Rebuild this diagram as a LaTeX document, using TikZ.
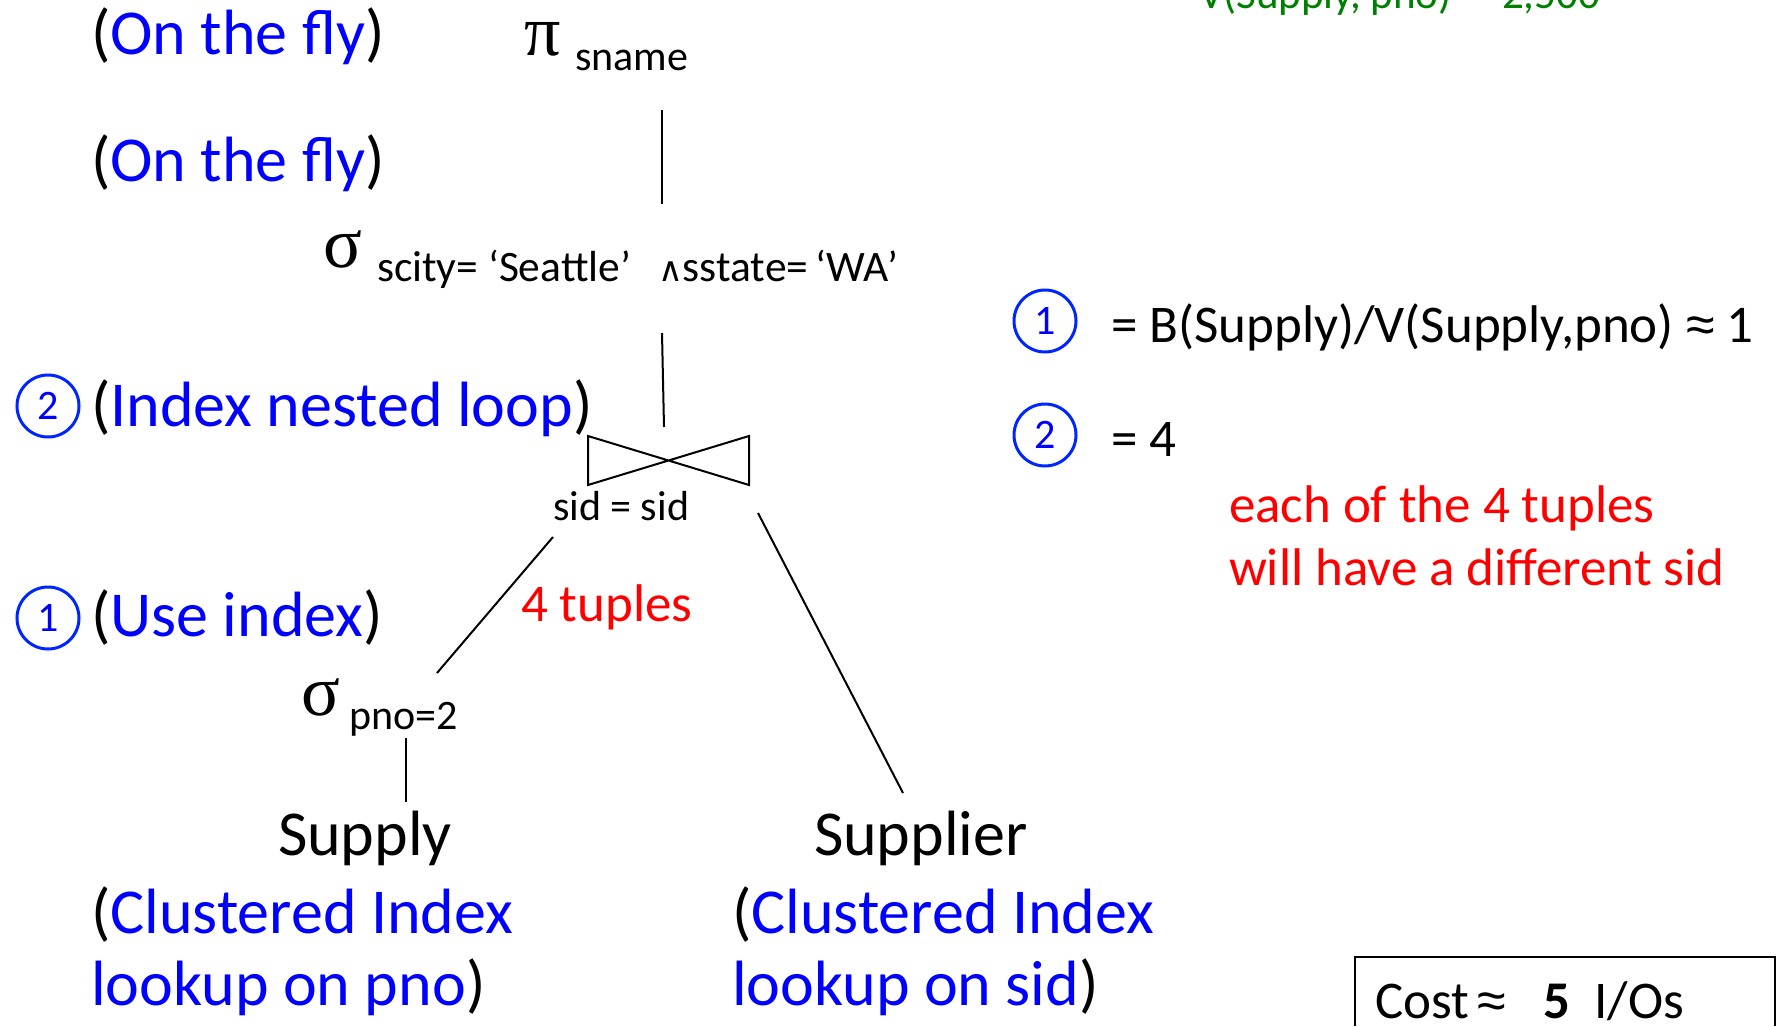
\documentclass[tikz,border=0pt]{standalone}
\usepackage{fontspec}
\setmainfont{Carlito}
\newfontfamily\greekfont{Liberation Serif}
\newfontfamily\symfont{DejaVu Sans}
\newfontfamily\approxfont{Liberation Sans}
\newcommand{\apx}{{\approxfont\fontsize{52}{58}\selectfont ≈}}
\begin{document}
\begin{tikzpicture}[x=1pt,y=-1pt,
  txt/.style={anchor=base west,inner sep=0pt,outer sep=0pt},
  big/.style={txt,font=\fontsize{64}{70}\selectfont},
  mid/.style={txt,font=\fontsize{53}{60}\selectfont},
  small/.style={txt,font=\fontsize{42}{48}\selectfont},
  greek/.style={txt,font=\fontsize{72}{80}\selectfont\greekfont},
  edge/.style={line width=2pt},
  num/.style={circle,draw=blue!85!cyan,line width=3pt,minimum size=62pt,inner sep=0pt,
    text=blue,font=\fontsize{42}{48}\selectfont}]
\fill[white] (0,0) rectangle (1777,1026);
\useasboundingbox (0,0) rectangle (1777,1026);

% statistics at the top
\node[mid,text=green!50!black,font=\fontsize{43}{48}\selectfont] (vstat) at (1199,8) {V(Supply, pno) =\ \ 2,500};

% projection
\node[big] (fly1) at (91,54) {(\textcolor{blue}{On the fly})};
\node[greek] (pi) at (524,55) {π};
\node[small] (pisub) at (575,70) {sname};

% selection on supplier
\node[big] (fly2) at (91,181) {(\textcolor{blue}{On the fly})};
\node[greek] (sig1) at (323,267) {σ};
\node[small,font=\fontsize{43.5}{48}\selectfont] (sig1sub) at (377,281) {scity= ‘Seattle’\ \ \,{\symfont\fontsize{34}{36}\selectfont ∧}sstate=\,‘WA’};

% join
\node[num] (c2l) at (48,406) {2};
\node[big] (inl) at (91,426) {(\textcolor{blue}{Index nested loop})};
\coordinate (jtl) at (588,436);
\coordinate (jbr) at (749,485);
\coordinate (jtr) at (749,436);
\coordinate (jbl) at (588,485);
\draw[edge] (jtl) -- (jbr) -- (jtr) -- (jbl) -- cycle;
\node[small] (jcond) at (553,520) {sid = sid};
\node[mid,text=red] (tup) at (521,621) {4 tuples};

% selection on supply
\node[num] (c1l) at (48,618) {1};
\node[big] (useidx) at (91,636) {(\textcolor{blue}{Use index})};
\node[greek] (sig2) at (301,715) {σ};
\node[small] (sig2sub) at (349,729) {pno=2};

% base relations
\node[big] (supply) at (278,855) {Supply};
\node[big] (supplyacc) at (91,933) {(\textcolor{blue}{Clustered Index}};
\node[big] (supplyacc2) at (91,1005) {\textcolor{blue}{lookup on pno})};
\node[big] (supplier) at (814,855) {Supplier};
\node[big] (supplieracc) at (732,933) {(\textcolor{blue}{Clustered Index}};
\node[big] (supplieracc2) at (732,1005) {\textcolor{blue}{lookup on sid})};

% connector end points
\coordinate (piB) at (662,110);
\coordinate (sig1T) at (662,204);
\coordinate (sig1B) at (662,333);
\coordinate (joinT) at (664,427);
\coordinate (joinL) at (553,537);
\coordinate (sig2T) at (437,673);
\coordinate (joinR) at (758,513);
\coordinate (supplierT) at (903,793);
\coordinate (sig2B) at (406,738);
\coordinate (supplyT) at (406,802);
\draw[edge] (piB) -- (sig1T);
\draw[edge] (sig1B) -- (joinT);
\draw[edge] (joinL) -- (sig2T);
\draw[edge] (joinR) -- (supplierT);
\draw[edge] (sig2B) -- (supplyT);

% cost notes
\node[num] (c1r) at (1045,321) {1};
\node[mid] (eq1) at (1111,342) {= B(Supply)/V(Supply,pno) \apx\ 1};
\node[num] (c2r) at (1045,435) {2};
\node[mid] (eq2) at (1111,456) {= 4};
\node[mid,text=red] (note1) at (1229,522) {each of the 4 tuples};
\node[mid,text=red] (note2) at (1229,585) {will have a different sid};

% total cost box
\draw[edge] (1355,1026) -- (1355,957) -- (1775,957) -- (1775,1026);
\node[mid] (cost) at (1375,1018) {Cost\,\apx\hspace{0.7em}\textbf{5}\hspace{0.45em}I/Os};
\end{tikzpicture}
\end{document}
